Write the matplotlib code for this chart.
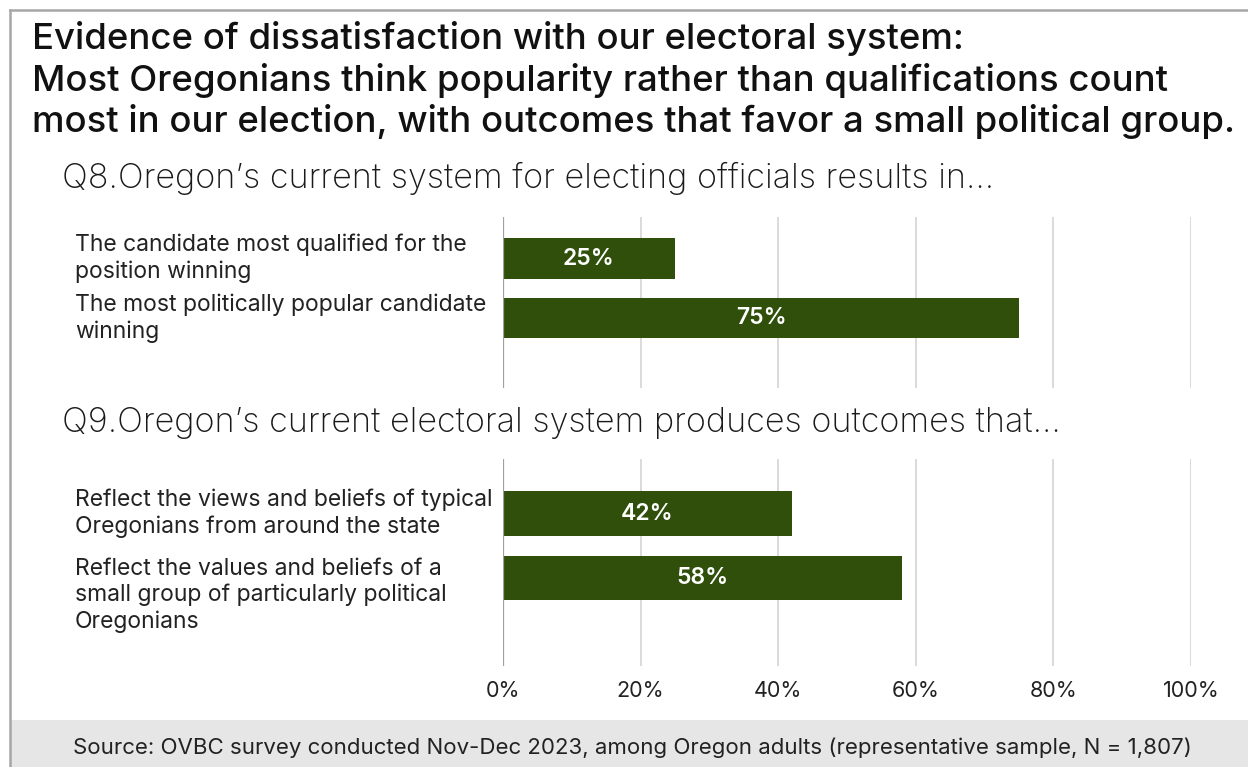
import matplotlib.pyplot as plt
from matplotlib.lines import Line2D
from matplotlib.patches import Rectangle

plt.rcParams['font.family'] = ['Inter', 'DejaVu Sans']

# Data
title = ("Evidence of dissatisfaction with our electoral system:\n"
         "Most Oregonians think popularity rather than qualifications count\n"
         "most in our election, with outcomes that favor a small political group.")
q8_title = "Q8.Oregon\u2019s current system for electing officials results in..."
q8_labels = ["The candidate most qualified for the\nposition winning",
             "The most politically popular candidate\nwinning"]
q8_values = [25, 75]
q9_title = "Q9.Oregon\u2019s current electoral system produces outcomes that..."
q9_labels = ["Reflect the views and beliefs of typical\nOregonians from around the state",
             "Reflect the values and beliefs of a\nsmall group of particularly political\nOregonians"]
q9_values = [42, 58]
xticks = [0, 20, 40, 60, 80, 100]
source = "Source: OVBC survey conducted Nov-Dec 2023, among Oregon adults (representative sample, N = 1,807)"

W, H = 1248, 767
bar_color = "#2f4f0a"
fig = plt.figure(figsize=(W / 100, H / 100), dpi=100)


def fx(x):
    return x / W


def fy(y):
    return 1 - y / H


# frame lines and source band
fig.add_artist(Rectangle((fx(10), 0), 1 - fx(10), fy(720), transform=fig.transFigure,
                         facecolor="#e6e6e6", edgecolor="none"))
fig.add_artist(Line2D([fx(10), 1], [fy(10), fy(10)], transform=fig.transFigure,
                      color="#a6a6a6", lw=1.8))
fig.add_artist(Line2D([fx(10), fx(10)], [fy(10), 0], transform=fig.transFigure,
                      color="#a6a6a6", lw=1.8))

fig.text(fx(32), fy(80), title, fontsize=26.3, fontweight="medium", color="#111111",
         va="center", ha="left", linespacing=1.23)
fig.text(fx(62), fy(178), q8_title, fontsize=24.6, fontweight="light", color="#1a1a1a",
         va="center", ha="left")
fig.text(fx(62), fy(423), q9_title, fontsize=24.6, fontweight="light", color="#1a1a1a",
         va="center", ha="left")
fig.text(fx(632), fy(748), source, fontsize=16, color="#222222", va="center", ha="center")


def panel(top, bottom, labels, values, ylim, show_ticks):
    ax = fig.add_axes([fx(503), fy(bottom), fx(1191) - fx(503), (bottom - top) / H])
    pos = list(range(len(values)))
    ax.barh(pos, values, height=0.68, color=bar_color, zorder=3)
    ax.set_xlim(0, 100)
    ax.set_ylim(*ylim)
    for s in ax.spines.values():
        s.set_visible(False)
    ax.set_xticks(xticks)
    ax.grid(axis="x", color="#d4d4d4", lw=1.2, zorder=0)
    ax.axvline(0, color="#a0a0a0", lw=1.6, zorder=4)
    ax.set_yticks([])
    if show_ticks:
        ax.set_xticklabels([f"{t}%" for t in xticks], fontsize=15.5, color="#222222")
        ax.tick_params(axis="x", length=0, pad=11)
    else:
        ax.tick_params(axis="x", length=0, labelbottom=False)
    label_x = (75 - 503) / (1191 - 503)
    for p, v, lab in zip(pos, values, labels):
        ax.text(v / 2, p, f"{v}%", color="white", fontsize=16.5, fontweight="semibold",
                ha="center", va="center", zorder=5)
        n = lab.count("\n") + 1
        ax.text(label_x, p + (n - 2) * 0.26, lab, transform=ax.get_yaxis_transform(),
                fontsize=16.5, color="#222222", ha="left", va="center", linespacing=1.24)
    return ax


panel(217, 388, q8_labels, q8_values, (2.18, -0.70), False)
panel(459, 666, q9_labels, q9_values, (2.35, -0.84), True)

fig.savefig("out.png", dpi=100)
